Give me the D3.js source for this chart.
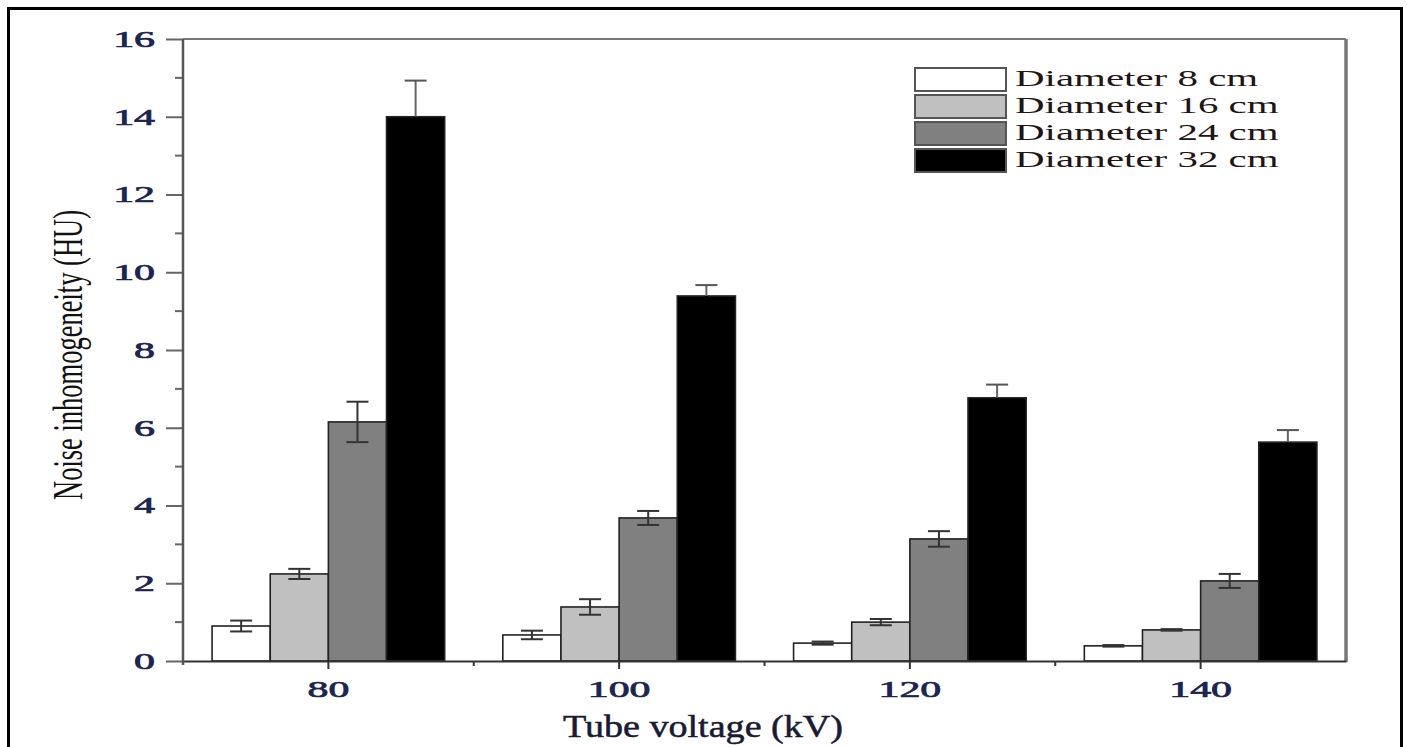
<!DOCTYPE html>
<html>
<head>
<meta charset="utf-8">
<script src="https://cdn.jsdelivr.net/npm/d3@7"></script>
<style>
  html, body { margin: 0; padding: 0; background: #fff; }
  svg { display: block; }
  text { font-family: "Liberation Serif", "Times New Roman", serif; }
</style>
</head>
<body>
<svg id="chart" width="1407" height="747"></svg>
<script>
// ---- data ----
const categories = ["80", "100", "120", "140"];
const seriesNames = ["Diameter 8 cm", "Diameter 16 cm", "Diameter 24 cm", "Diameter 32 cm"];
const seriesColors = ["#ffffff", "#c0c0c0", "#808080", "#000000"];
const d8  = [0.90, 0.67, 0.46, 0.39];
const d16 = [2.24, 1.39, 1.00, 0.80];
const d24 = [6.15, 3.68, 3.14, 2.06];
const d32 = [14.00, 9.39, 6.77, 5.63];
const e8  = [0.14, 0.11, 0.04, 0.02];
const e16 = [0.13, 0.20, 0.08, 0.02];
const e24 = [0.52, 0.18, 0.20, 0.18];
const e32 = [0.93, 0.28, 0.34, 0.31];
const yMajorTicks = [0, 2, 4, 6, 8, 10, 12, 14, 16];
const yMinorTicks = [1, 3, 5, 7, 9, 11, 13, 15];
const xTitle = "Tube voltage (kV)";
const yTitle = "Noise inhomogeneity (HU)";

const values = [d8, d16, d24, d32];
const errors = [e8, e16, e24, e32];
const rows = [];
categories.forEach((c, ci) => {
  seriesNames.forEach((s, si) => {
    rows.push({cat: c, series: s, si, value: values[si][ci], err: errors[si][ci]});
  });
});

// ---- layout ----
const svg = d3.select("#chart");
const pLeft = 183, pRight = 1346, pTop = 39, pBottom = 661;
const SX = 1.82; // horizontal stretch of the original typography

// outer frame
svg.append("rect").attr("x", 8.5).attr("y", 8.5).attr("width", 1393).attr("height", 760)
  .attr("fill", "none").attr("stroke", "#000").attr("stroke-width", 3);

const x = d3.scaleBand().domain(categories).range([pLeft, pRight]).paddingInner(0.2).paddingOuter(0.1);
const xs = d3.scaleBand().domain(seriesNames).range([0, x.bandwidth()]).padding(0);
const y = d3.scaleLinear().domain([0, 16]).range([pBottom, pTop]);
const color = d3.scaleOrdinal().domain(seriesNames).range(seriesColors);

// top & right frame lines
svg.append("line").attr("x1", pLeft).attr("x2", pRight).attr("y1", y(16)).attr("y2", y(16))
  .attr("stroke", "#777").attr("stroke-width", 2);
svg.append("line").attr("x1", pRight).attr("x2", pRight).attr("y1", y(16)).attr("y2", pBottom + 1)
  .attr("stroke", "#777").attr("stroke-width", 3.5);

// bars
const g = svg.append("g");
g.selectAll("rect.bar").data(rows).join("rect")
  .attr("class", "bar")
  .attr("x", d => x(d.cat) + xs(d.series))
  .attr("y", d => y(d.value))
  .attr("width", xs.bandwidth())
  .attr("height", d => y(0) - y(d.value))
  .attr("fill", d => color(d.series))
  .attr("stroke", "#222")
  .attr("stroke-width", 1.6);

// error bars (lower half of the black bars is hidden inside the bar)
const capW = 22;
const lowColor = d => d.si === 3 ? "#000" : "#333";
const eb = g.selectAll("g.err").data(rows).join("g").attr("class", "err")
  .attr("transform", d => `translate(${x(d.cat) + xs(d.series) + xs.bandwidth() / 2},0)`);
eb.append("line").attr("x1", 0).attr("x2", 0)
  .attr("y1", d => y(d.value)).attr("y2", d => y(d.value + d.err))
  .attr("stroke", d => d.si === 3 ? "#666" : "#333").attr("stroke-width", 2);
eb.append("line").attr("x1", 0).attr("x2", 0)
  .attr("y1", d => y(d.value - d.err)).attr("y2", d => y(d.value))
  .attr("stroke", lowColor).attr("stroke-width", 2);
eb.append("line").attr("x1", -capW / 2).attr("x2", capW / 2)
  .attr("y1", d => y(d.value + d.err)).attr("y2", d => y(d.value + d.err))
  .attr("stroke", d => d.si === 3 ? "#555" : "#333").attr("stroke-width", 2);
eb.append("line").attr("x1", -capW / 2).attr("x2", capW / 2)
  .attr("y1", d => y(d.value - d.err)).attr("y2", d => y(d.value - d.err))
  .attr("stroke", lowColor).attr("stroke-width", 2);

// x axis
const xAxis = svg.append("g").attr("transform", `translate(0,${pBottom})`)
  .call(d3.axisBottom(x).tickSize(8).tickSizeOuter(0));
xAxis.select(".domain").attr("stroke", "#333").attr("stroke-width", 2);
xAxis.selectAll(".tick line").attr("stroke", "#333").attr("stroke-width", 2);
xAxis.selectAll(".tick text")
  .attr("y", null).attr("dy", null)
  .attr("transform", `translate(0,${36}) scale(${SX},1)`)
  .attr("font-size", 23).attr("fill", "#1c2450")
  .attr("stroke", "#1c2450").attr("stroke-width", 0.7);
// minor x ticks at group boundaries
const bounds = categories.slice(1).map(c => x(c) - x.step() * x.paddingInner() / 2);
svg.append("g").selectAll("line").data(bounds).join("line")
  .attr("x1", d => d).attr("x2", d => d).attr("y1", pBottom).attr("y2", pBottom + 5)
  .attr("stroke", "#333").attr("stroke-width", 2);

// y axis
const yAxis = svg.append("g").attr("transform", `translate(${pLeft},0)`)
  .call(d3.axisLeft(y).tickValues(yMajorTicks).tickSize(17).tickSizeOuter(0).tickFormat(d3.format("d")));
yAxis.select(".domain").remove();
yAxis.selectAll(".tick line").attr("stroke", "#666").attr("stroke-width", 2);
yAxis.selectAll(".tick text")
  .attr("x", 0).attr("dy", "0.32em")
  .attr("transform", `translate(-28,0) scale(${SX},1)`)
  .attr("font-size", 23).attr("fill", "#1c2450")
  .attr("stroke", "#1c2450").attr("stroke-width", 0.7);
svg.append("g").selectAll("line").data(yMinorTicks).join("line")
  .attr("x1", pLeft - 8).attr("x2", pLeft).attr("y1", d => y(d)).attr("y2", d => y(d))
  .attr("stroke", "#666").attr("stroke-width", 2);
svg.append("line").attr("x1", pLeft).attr("x2", pLeft).attr("y1", y(16)).attr("y2", pBottom + 4)
  .attr("stroke", "#555").attr("stroke-width", 2.5);

// axis titles
svg.append("text").attr("x", 703).attr("y", 737)
  .attr("text-anchor", "middle").attr("font-size", 31)
  .attr("fill", "#1a1a33").attr("stroke", "#1a1a33").attr("stroke-width", 0.5)
  .attr("textLength", 280).attr("lengthAdjust", "spacingAndGlyphs")
  .text(xTitle);
svg.append("text").attr("transform", `translate(82,${355}) rotate(-90)`)
  .attr("text-anchor", "middle").attr("font-size", 42)
  .attr("fill", "#111").attr("textLength", 290).attr("lengthAdjust", "spacingAndGlyphs")
  .text(yTitle);

// legend
const lg = svg.append("g").attr("transform", "translate(915,68)");
const ly = d3.scaleBand().domain(seriesNames).range([0, 108]).padding(0);
const li = lg.selectAll("g").data(seriesNames).join("g")
  .attr("transform", d => `translate(0,${ly(d)})`);
li.append("rect").attr("x", 0).attr("y", 0).attr("width", 91).attr("height", 23)
  .attr("fill", d => color(d)).attr("stroke", "#555").attr("stroke-width", 2);
li.append("text").attr("x", 0).attr("y", 0)
  .attr("transform", `translate(100,18) scale(${SX},1)`)
  .attr("font-size", 22.5).attr("fill", "#221414")
  .text(d => d);
</script>
</body>
</html>
